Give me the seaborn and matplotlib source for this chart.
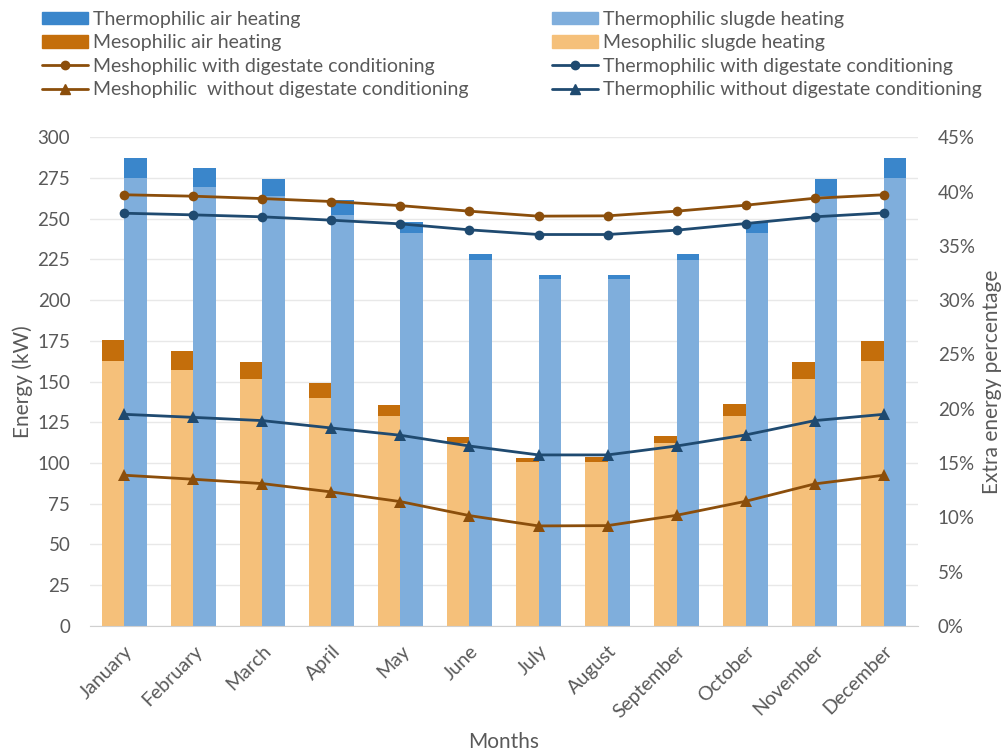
import numpy as np
import pandas as pd
import matplotlib
matplotlib.use("Agg")
import matplotlib.pyplot as plt
import seaborn as sns
from matplotlib.patches import Patch
from matplotlib.lines import Line2D

# Data
months = ["January", "February", "March", "April", "May", "June", "July",
          "August", "September", "October", "November", "December"]

meso_sludge = [162.8, 157.1, 151.5, 140.1, 128.8, 112.5, 100.6, 100.8, 112.3, 128.8, 151.5, 162.8]
meso_total = [175.3, 168.7, 162.0, 149.3, 135.6, 116.1, 103.3, 103.5, 116.6, 136.2, 162.0, 175.0]
thermo_sludge = [275.0, 269.3, 263.8, 252.1, 241.3, 224.7, 213.1, 213.1, 224.7, 241.3, 263.8, 275.0]
thermo_total = [287.5, 281.0, 274.2, 261.3, 247.9, 228.6, 215.3, 215.7, 228.6, 247.9, 274.2, 287.3]

meso_with = [39.7, 39.57, 39.35, 39.08, 38.7, 38.19, 37.73, 37.76, 38.19, 38.74, 39.38, 39.7]
thermo_with = [38.0, 37.85, 37.67, 37.36, 37.02, 36.47, 36.04, 36.04, 36.44, 37.05, 37.67, 38.03]
thermo_without = [19.48, 19.2, 18.9, 18.22, 17.55, 16.56, 15.74, 15.74, 16.56, 17.58, 18.9, 19.48]
meso_without = [13.87, 13.5, 13.1, 12.33, 11.44, 10.15, 9.2, 9.23, 10.18, 11.47, 13.07, 13.87]

# colours
c_t_air = "#3A86CB"
c_t_sludge = "#7FAEDC"
c_m_air = "#C46E0B"
c_m_sludge = "#F5C07A"
c_brown = "#8B4E0B"
c_navy = "#1F4A70"
grey_txt = "#595959"

sns.set_style("white")
plt.rcParams["font.family"] = ["Lato", "DejaVu Sans"]

df = pd.DataFrame({
    "month": months * 2,
    "type": ["Mesophilic"] * 12 + ["Thermophilic"] * 12,
    "total": meso_total + thermo_total,
    "sludge": meso_sludge + thermo_sludge,
})

fig = plt.figure(figsize=(10.08, 7.54), dpi=100)
ax = fig.add_axes([0.089, 0.170, 0.822, 0.648])

sns.barplot(data=df, x="month", y="total", hue="type", order=months,
            hue_order=["Mesophilic", "Thermophilic"], saturation=1,
            palette=[c_m_air, c_t_air], width=0.656, ax=ax, legend=False,
            edgecolor="none", linewidth=0)
sns.barplot(data=df, x="month", y="sludge", hue="type", order=months,
            hue_order=["Mesophilic", "Thermophilic"], saturation=1,
            palette=[c_m_sludge, c_t_sludge], width=0.656, ax=ax, legend=False,
            edgecolor="none", linewidth=0)

ax.set_ylim(0, 300)
ax.set_xlim(-0.5, 11.5)
ax.set_yticks(np.arange(0, 301, 25))
ax.yaxis.grid(True, color="#E8E8E8", linewidth=1)
ax.set_axisbelow(True)
for s in ["top", "right", "left"]:
    ax.spines[s].set_visible(False)
ax.spines["bottom"].set_color("#D0D0D0")
ax.tick_params(axis="y", length=0, labelsize=13.5, colors=grey_txt, pad=14)
ax.tick_params(axis="x", length=0, labelsize=14, colors=grey_txt, pad=12)
plt.setp(ax.get_xticklabels(), rotation=45, ha="right", rotation_mode="anchor")
ax.set_xlabel("Months", fontsize=15, color=grey_txt, labelpad=8)
ax.set_ylabel("Energy (kW)", fontsize=15, color=grey_txt, labelpad=3)

ax2 = ax.twinx()
x = np.arange(len(months))
sns.lineplot(x=x, y=meso_with, ax=ax2, color=c_brown, marker="o", markersize=7,
             markeredgewidth=0, linewidth=2)
sns.lineplot(x=x, y=thermo_with, ax=ax2, color=c_navy, marker="o", markersize=7,
             markeredgewidth=0, linewidth=2)
sns.lineplot(x=x, y=thermo_without, ax=ax2, color=c_navy, marker="^", markersize=8,
             markeredgewidth=0, linewidth=2)
sns.lineplot(x=x, y=meso_without, ax=ax2, color=c_brown, marker="^", markersize=8,
             markeredgewidth=0, linewidth=2)
ax2.set_ylim(0, 45)
ax2.set_yticks(np.arange(0, 46, 5))
ax2.set_yticklabels([f"{v}%" for v in range(0, 46, 5)])
for s in ["top", "right", "left", "bottom"]:
    ax2.spines[s].set_visible(False)
ax2.tick_params(axis="y", length=0, labelsize=13.5, colors=grey_txt, pad=14)
ax2.set_ylabel("Extra energy percentage", fontsize=15, color=grey_txt, labelpad=5)
ax2.set_xlim(-0.5, 11.5)

# legend, two columns
left_handles = [
    Patch(color=c_t_air, label="Thermophilic air heating"),
    Patch(color=c_m_air, label="Mesophilic air heating"),
    Line2D([], [], color=c_brown, marker="o", markersize=6, lw=2, label="Meshophilic with digestate conditioning"),
    Line2D([], [], color=c_brown, marker="^", markersize=7, lw=2, label="Meshophilic  without digestate conditioning"),
]
right_handles = [
    Patch(color=c_t_sludge, label="Thermophilic slugde heating"),
    Patch(color=c_m_sludge, label="Mesophilic slugde heating"),
    Line2D([], [], color=c_navy, marker="o", markersize=6, lw=2, label="Thermophilic with digestate conditioning"),
    Line2D([], [], color=c_navy, marker="^", markersize=7, lw=2, label="Thermophilic without digestate conditioning"),
]
for handles, xpos in [(left_handles, 42 / 1008), (right_handles, 552 / 1008)]:
    leg = fig.legend(handles=handles, loc="upper left", bbox_to_anchor=(xpos, 1 - 11 / 754),
                     frameon=False, fontsize=14, handlelength=2.35, handleheight=0.6,
                     handletextpad=0.25, labelspacing=0.33, borderaxespad=0, borderpad=0)
    for t in leg.get_texts():
        t.set_color(grey_txt)

fig.savefig("out.png", dpi=100)
